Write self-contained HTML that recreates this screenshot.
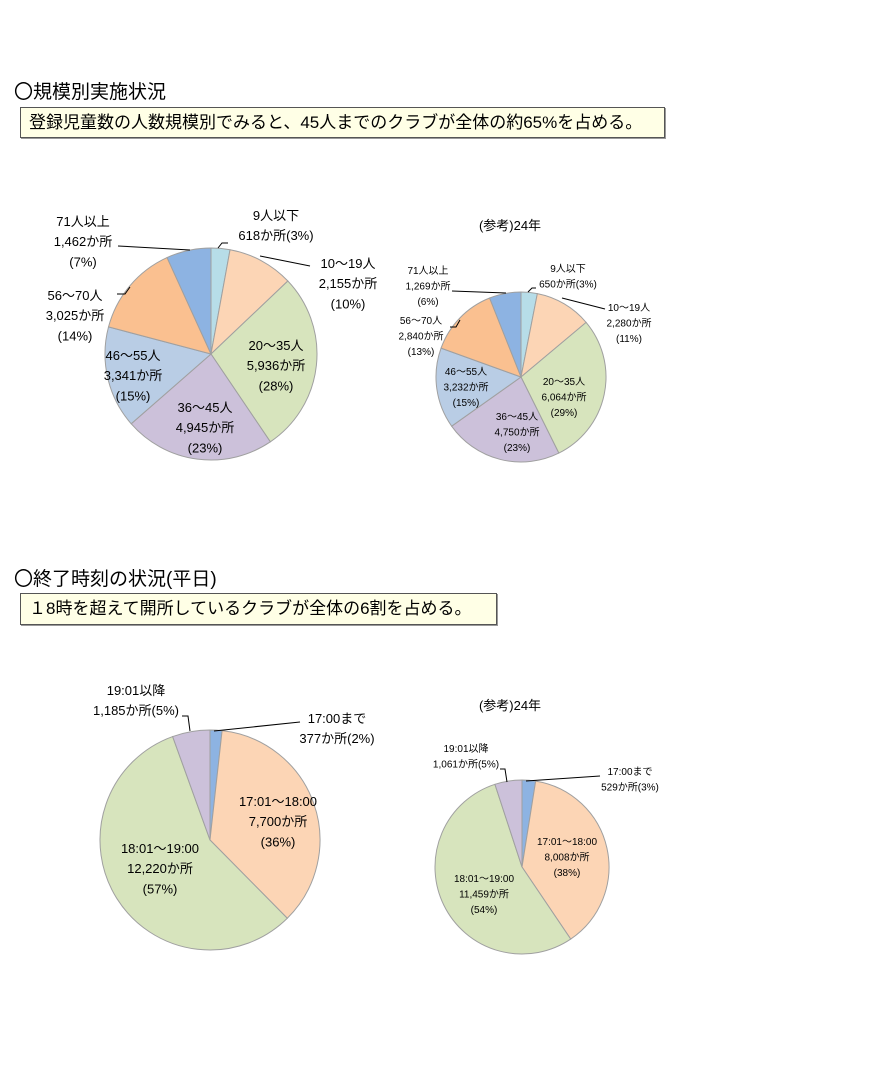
<!DOCTYPE html>
<html><head><meta charset="utf-8">
<style>
body{margin:0;background:#fff;width:889px;height:1090px;overflow:hidden;position:relative;font-family:"Liberation Sans","Noto Sans CJK JP",sans-serif;}
.h{position:absolute;left:14px;font-size:19px;color:#000;white-space:nowrap;}
.box{position:absolute;left:20px;border:1px solid #555;background:#ffffe6;font-size:17px;padding:0 0 0 8px;box-sizing:border-box;line-height:29px;white-space:nowrap;box-shadow:1px 1px 0 #999;}
svg{position:absolute;left:0;top:0;}
</style></head><body>
<div class="h" style="top:77px">〇規模別実施状況</div>
<div class="box" style="top:107px;width:645px;height:31px">登録児童数の人数規模別でみると、45人までのクラブが全体の約65%を占める。</div>
<div class="h" style="top:564px">〇終了時刻の状況(平日)</div>
<div class="box" style="top:593px;width:477px;height:32px">１8時を超えて開所しているクラブが全体の6割を占める。</div>
<svg id="s" width="889" height="1090"></svg>
<script>
const scaleCats=["9人以下","10～19人","20～35人","36～45人","46～55人","56～70人","71人以上"];
const scaleColors=["#b7dde8","#fcd5b5","#d7e4bd","#ccc1da","#b9cde5","#fac090","#8db3e2"];
const scale30=[618,2155,5936,4945,3341,3025,1462];
const scale24=[650,2280,6064,4750,3232,2840,1269];
const timeCats=["17:00まで","17:01～18:00","18:01～19:00","19:01以降"];
const timeColors=["#8db3e2","#fcd5b5","#d7e4bd","#ccc1da"];
const time30=[377,7700,12220,1185];
const time24=[529,8008,11459,1061];
const pct30s=["3%","10%","28%","23%","15%","14%","7%"];
const pct24s=["3%","11%","29%","23%","15%","13%","6%"];
const pct30t=["2%","36%","57%","5%"];
const pct24t=["3%","38%","54%","5%"];

const NS="http://www.w3.org/2000/svg";
const svg=document.getElementById('s');
function fmt(n){return n.toLocaleString('en-US');}
function pie(name,cx,cy,r,vals,colors){
  const tot=vals.reduce((a,b)=>a+b,0);let a=0;
  vals.forEach((v,i)=>{
    const a0=a/tot*2*Math.PI;a+=v;const a1=a/tot*2*Math.PI;
    const x0=cx+r*Math.sin(a0),y0=cy-r*Math.cos(a0),x1=cx+r*Math.sin(a1),y1=cy-r*Math.cos(a1);
    const p=document.createElementNS(NS,'path');
    p.setAttribute('d',`M${cx},${cy}L${x0},${y0}A${r},${r} 0 ${(a1-a0)>Math.PI?1:0} 1 ${x1},${y1}Z`);
    p.setAttribute('fill',colors[i]);p.setAttribute('stroke','#a0a0a0');p.setAttribute('stroke-width','1');
    
    
    svg.appendChild(p);
  });
}
function text(name,x,y,lines,size){
  const t=document.createElementNS(NS,'text');
  t.setAttribute('x',x);t.setAttribute('y',y);t.setAttribute('font-size',size);t.setAttribute('text-anchor','middle');
  lines.forEach((l,i)=>{const s=document.createElementNS(NS,'tspan');s.setAttribute('x',x);s.setAttribute('dy',i?size*1.55:0);s.textContent=l;t.appendChild(s);});
  
  
  svg.appendChild(t);
}
function line(name,pts){
  const p=document.createElementNS(NS,'polyline');
  p.setAttribute('points',pts);p.setAttribute('fill','none');p.setAttribute('stroke','#000');p.setAttribute('stroke-width','1');
  
  
  svg.appendChild(p);
}
pie('scale-2018',211,354,106,scale30,scaleColors);
pie('scale-2012',521,377,85,scale24,scaleColors);
pie('time-2018',210,840,110,time30,timeColors);
pie('time-2012',522,867,87,time24,timeColors);

let S=13;
text('label-s30-0',276,220,[scaleCats[0],fmt(scale30[0])+"か所("+pct30s[0]+")"],S);
text('label-s30-1',348,268,[scaleCats[1],fmt(scale30[1])+"か所","("+pct30s[1]+")"],S);
text('label-s30-2',276,350,[scaleCats[2],fmt(scale30[2])+"か所","("+pct30s[2]+")"],S);
text('label-s30-3',205,412,[scaleCats[3],fmt(scale30[3])+"か所","("+pct30s[3]+")"],S);
text('label-s30-4',133,360,[scaleCats[4],fmt(scale30[4])+"か所","("+pct30s[4]+")"],S);
text('label-s30-5',75,300,[scaleCats[5],fmt(scale30[5])+"か所","("+pct30s[5]+")"],S);
text('label-s30-6',83,226,[scaleCats[6],fmt(scale30[6])+"か所","("+pct30s[6]+")"],S);
line('leader-s30-0','218,248 222,243 228,243');
line('leader-s30-1','260,256 310,266');
line('leader-s30-5','117,294 125,294 130,287');
line('leader-s30-6','118,246 190,250');
S=10;
text('title-2012-scale',510,230,["(参考)24年"],13);
text('label-s24-0',568,272,[scaleCats[0],fmt(scale24[0])+"か所("+pct24s[0]+")"],S);
text('label-s24-1',629,311,[scaleCats[1],fmt(scale24[1])+"か所","("+pct24s[1]+")"],S);
text('label-s24-2',564,385,[scaleCats[2],fmt(scale24[2])+"か所","("+pct24s[2]+")"],S);
text('label-s24-3',517,420,[scaleCats[3],fmt(scale24[3])+"か所","("+pct24s[3]+")"],S);
text('label-s24-4',466,375,[scaleCats[4],fmt(scale24[4])+"か所","("+pct24s[4]+")"],S);
text('label-s24-5',421,324,[scaleCats[5],fmt(scale24[5])+"か所","("+pct24s[5]+")"],S);
text('label-s24-6',428,274,[scaleCats[6],fmt(scale24[6])+"か所","("+pct24s[6]+")"],S);
line('leader-s24-0','528,292 532,288 536,288');
line('leader-s24-1','562,298 605,309');
line('leader-s24-5','450,327 456,327 460,320');
line('leader-s24-6','452,291 506,293');
S=13;
text('label-t30-0',337,723,[timeCats[0],fmt(time30[0])+"か所("+pct30t[0]+")"],S);
text('label-t30-1',278,806,[timeCats[1],fmt(time30[1])+"か所","("+pct30t[1]+")"],S);
text('label-t30-2',160,853,[timeCats[2],fmt(time30[2])+"か所","("+pct30t[2]+")"],S);
text('label-t30-3',136,695,[timeCats[3],fmt(time30[3])+"か所("+pct30t[3]+")"],S);
line('leader-t30-0','214,731 300,722');
line('leader-t30-3','182,716 188,716 190,731');
S=10;
text('title-2012-time',510,710,["(参考)24年"],13);
text('label-t24-0',630,775,[timeCats[0],fmt(time24[0])+"か所("+pct24t[0]+")"],S);
text('label-t24-1',567,845,[timeCats[1],fmt(time24[1])+"か所","("+pct24t[1]+")"],S);
text('label-t24-2',484,882,[timeCats[2],fmt(time24[2])+"か所","("+pct24t[2]+")"],S);
text('label-t24-3',466,752,[timeCats[3],fmt(time24[3])+"か所("+pct24t[3]+")"],S);
line('leader-t24-0','526,781 600,776');
line('leader-t24-3','500,769 505,769 507,782');
</script>
</body></html>
